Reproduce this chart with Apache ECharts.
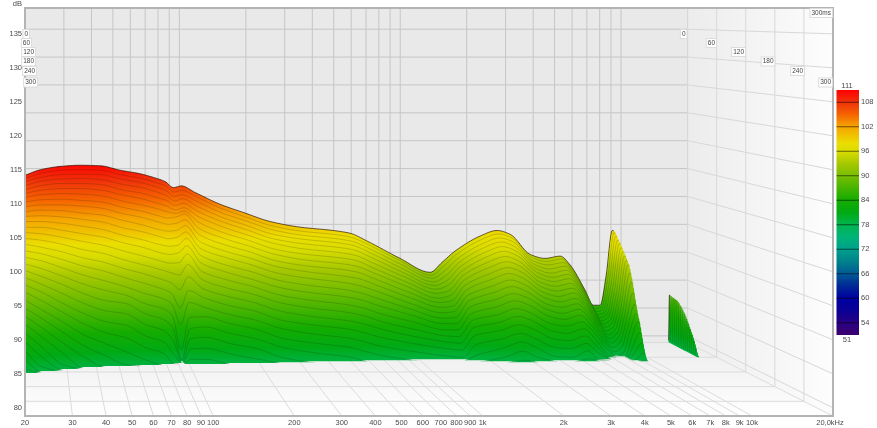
<!DOCTYPE html>
<html><head><meta charset="utf-8">
<style>html,body{margin:0;padding:0;background:#fff}#c{width:877px;height:428px}</style>
<script src="https://cdn.jsdelivr.net/npm/echarts@6/dist/echarts.min.js"></script>
</head><body><div id="c"></div>
<script>
// ---- axis ticks
const freqTicks = [20,30,40,50,60,70,80,90,100,200,300,400,500,600,700,800,900,1000,2000,3000,4000,5000,6000,7000,8000,9000,10000,20000];
const freqTickLabels = ['20','30','40','50','60','70','80','90','100','200','300','400','500','600','700','800','900','1k','2k','3k','4k','5k','6k','7k','8k','9k','10k','20,0kHz'];
const dbTicks = [80,85,90,95,100,105,110,115,120,125,130,135];
const timeTicks = [0,60,120,180,240,300];
const scaleTicks = [54,60,66,72,78,84,90,96,102,108];
const colorLevels = [111,108,105,102,100,98,96,95,93,90,87,84,81,78,75,72,69,66,63,60,57,54,51];
const colorValues = ['#ff0000','#f0320a','#f56400','#f5a500','#f0c000','#ebde00','#dadc00','#c8d600','#a6c800','#78be00','#46b400','#14ac00','#00aa14','#00b450','#00b478','#00a08c','#00828c','#005a96','#002896','#0000a0','#0a0096','#280082','#3c006e'];
// ---- slice times (ms): one entry per slice
const timesMs = [0,4,8,12,16,20,24,28,32,36,40,44,48,52,56,60,64,68,72,76,80,84,88,92,96,100,104,108,112,116,120,124];
// ---- decay of the level (dB) at each frequency, one value per slice until it reaches the floor
const frequenciesHz = [20,23.5,29,35.5,44,54,66,78,86,94,102,118,153,196,258,352,497,593,708,998,1365,1548,1770,2300,2745,3150,3876,4530,5300,5880,6870,7470,8040,8550,9120,9300,9500,16400,16550,16700,16850,20000];
const f20 = [108.8,108.3,107.8,107.2,106.6,106.0,105.4,104.7,104.0,103.2,102.5,101.7,100.8,100.0,99.1,98.2,97.2,96.2,95.2,94.2,93.1,92.0,90.9,89.7,88.5,87.3,86.1,84.8,83.5,82.1,80.8,79.4];
const f23 = [109.8,109.2,108.6,108.0,107.3,106.6,105.9,105.1,104.3,103.5,102.6,101.7,100.8,99.8,98.8,97.7,96.7,95.6,94.4,93.2,92.0,90.8,89.5,88.1,86.8,85.4,84.0,82.5,81.0,79.5];
const f29 = [110.4,109.8,109.1,108.4,107.7,106.9,106.1,105.2,104.3,103.4,102.4,101.4,100.3,99.2,98.1,96.9,95.7,94.4,93.1,91.8,90.4,88.9,87.5,86.0,84.4,82.8,81.2,79.5];
const f35 = [110.6,109.9,109.2,108.5,107.7,106.9,106.0,105.0,104.1,103.0,102.0,100.9,99.7,98.5,97.2,95.9,94.6,93.2,91.8,90.3,88.8,87.2,85.6,83.9,82.2,80.5];
const f44 = [110.5,109.8,109.1,108.3,107.5,106.6,105.7,104.7,103.7,102.6,101.5,100.3,99.1,97.8,96.5,95.1,93.7,92.2,90.7,89.1,87.5,85.8,84.1,82.4,80.5];
const f54 = [109.7,109.0,108.3,107.5,106.6,105.8,104.8,103.8,102.8,101.7,100.5,99.3,98.1,96.8,95.4,94.0,92.6,91.2,89.9,88.6,87.0,85.2,83.2,81.0,79.0];
const f66 = [109.1,108.4,107.7,106.9,106.0,105.1,104.1,103.1,102.1,100.9,99.8,98.5,97.3,95.9,94.5,93.1,91.6,90.0,88.4,86.8,85.1,83.3,81.5,79.6];
const f78 = [108.3,107.6,106.9,106.1,105.2,104.3,103.4,102.3,101.3,100.1,99.0,97.7,96.4,95.1,93.7,92.2,90.7,89.2,87.6,85.9,84.2,82.4,80.6];
const f86 = [107.7,107.0,106.3,105.5,104.7,103.8,102.9,101.9,100.9,99.8,98.6,97.4,96.1,94.7,93.2,91.6,89.9,88.2,86.4,84.5,82.5,80.4,78.9];
const f94 = [106.6,105.9,105.2,104.5,103.8,103.1,102.6,102.1,101.1,100.0,98.9,97.6,96.4,94.8,92.8,90.4,87.4,84.7,80.6,79.0];
const f102 = [106.9,106.2,105.5,104.9,104.2,103.5,103.0,102.6,101.7,100.8,99.8,98.8,97.6,96.3,94.6,92.6,90.4,88.5,86.1,84.3,82.8,81.2,79.6];
const f118 = [105.7,105.1,104.4,103.6,102.8,102.0,101.1,100.1,99.1,98.0,96.9,95.8,94.6,93.3,92.0,90.6,89.2,87.7,86.2,84.6,83.0,81.3,79.6];
const f153 = [103.6,103.0,102.3,101.6,100.9,100.1,99.2,98.3,97.3,96.3,95.3,94.1,93.0,91.8,90.5,89.2,87.8,86.4,85.0,83.5,81.9,80.3];
const f196 = [102.1,101.5,100.9,100.2,99.5,98.7,97.9,97.0,96.1,95.1,94.1,93.0,91.8,90.7,89.5,88.2,86.9,85.5,84.1,82.6,81.1,79.5];
const f258 = [100.5,99.9,99.3,98.6,97.9,97.2,96.3,95.5,94.5,93.6,92.6,91.5,90.4,89.2,88.0,86.7,85.3,84.0,82.5,81.1,79.5];
const f352 = [99.5,98.9,98.3,97.7,97.0,96.2,95.4,94.5,93.6,92.7,91.7,90.6,89.5,88.3,87.1,85.8,84.5,83.1,81.7,80.2];
const f497 = [98.9,98.3,97.7,97.1,96.4,95.6,94.8,93.9,93.0,92.0,91.0,89.9,88.8,87.6,86.4,85.1,83.8,82.4,81.0,79.5];
const f593 = [98.4,97.8,97.2,96.6,95.9,95.1,94.3,93.4,92.5,91.5,90.4,89.3,88.2,87.0,85.8,84.5,83.1,81.7,80.2];
const f708 = [97.0,96.5,95.9,95.3,94.6,93.8,93.0,92.2,91.3,90.4,89.4,88.3,87.2,86.0,84.8,83.6,82.3,80.9,79.5];
const f998 = [93.9,93.5,93.0,92.4,91.8,91.2,90.5,89.8,89.0,88.2,87.3,86.4,85.5,84.5,83.4,82.3,81.2,80.0];
const f1365 = [91.4,91.0,90.6,90.1,89.6,89.1,88.5,87.8,87.2,86.5,85.7,84.9,84.1,83.2,82.3,81.4,80.4,79.3];
const f1548 = [93.2,92.6,91.9,91.2,90.5,89.8,89.0,88.3,87.5,86.7,85.9,85.0,84.1,83.2,82.2,81.2,80.2,79.1];
const f1770 = [95.2,94.7,94.1,93.5,92.9,92.2,91.6,90.9,90.2,89.5,88.7,87.9,87.0,86.0,85.0,83.9,82.7,81.3,79.7];
const f2300 = [97.9,97.4,96.8,96.2,95.5,94.8,94.0,93.2,92.3,91.4,90.4,89.4,88.3,87.2,86.0,84.8,83.6,82.3,80.9,79.5];
const f2745 = [98.9,98.4,97.8,97.2,96.5,95.8,95.0,94.2,93.3,92.4,91.4,90.4,89.3,88.2,87.0,85.8,84.5,83.2,81.9,80.5,79.1];
const f3150 = [98.2,97.7,97.1,96.4,95.7,95.0,94.2,93.4,92.5,91.6,90.6,89.6,88.6,87.5,86.3,85.1,83.8,82.4,81.0,79.5];
const f3876 = [94.6,94.2,93.7,93.2,92.6,92.0,91.3,90.6,89.9,89.1,88.3,87.4,86.5,85.5,84.4,83.3,82.1,80.8,79.4];
const f4530 = [93.9,93.5,93.0,92.4,91.8,91.2,90.6,89.9,89.2,88.4,87.6,86.8,85.9,85.0,84.0,82.9,81.8,80.6,79.3];
const f5300 = [94.3,93.9,93.4,92.9,92.3,91.7,91.1,90.4,89.7,89.0,88.2,87.4,86.6,85.7,84.7,83.7,82.6,81.5,80.4,79.2];
const f5880 = [92.7,92.2,91.7,91.2,90.6,90.0,89.4,88.7,88.0,87.3,86.6,85.8,85.0,84.1,83.2,82.2,81.1,80.0,78.9];
const f6870 = [88.2,87.7,87.2,86.7,86.2,85.7,85.2,84.6,84.0,83.4,82.8,82.1,81.4,80.7,79.9,79.1];
const f7470 = [85.5,85.1,84.7,84.3,83.9,83.5,83.1,82.7,82.2,81.7,81.2,80.6,80.0,79.4,78.9];
const f8040 = [85.5,85.3,85.1,84.8,84.5,84.2,83.8,83.4,83.0,82.6,82.1,81.6,81.0,80.3,79.5];
const f8550 = [90.7,90.4,90.1,89.7,89.3,88.9,88.4,87.9,87.4,86.8,86.2,85.5,84.8,84.0,83.1,82.1,81.0,80.0,79.0];
const f9120 = [98.9,98.6,98.1,97.5,97.0,96.4,95.8,95.2,94.5,93.9,92.6,91.1,89.4,87.6,86.1,84.9,83.2,81.5,80.0,78.9];
const f9300 = [98.8,98.5,98.0,97.4,96.9,96.3,95.7,95.1,94.4,93.8,92.5,91.0,89.3,87.5,86.0,84.8,83.1,81.4,79.9,78.9];
const f9500 = [];
const f16400 = [];
const f16550 = [87.3,87.2,87.1,87.0,86.9,86.6,86.2,85.7,85.2,84.5,83.8,83.0,82.2,81.3,80.2,79.0];
const f16700 = [87.2,87.1,87.0,86.9,86.8,86.5,86.1,85.6,85.1,84.4,83.7,82.9,82.1,81.2,80.1,79.0];
const f16850 = [];
const f20000 = [];
const levelsByFrequency = [f20,f23,f29,f35,f44,f54,f66,f78,f86,f94,f102,f118,f153,f196,f258,f352,f497,f593,f708,f998,f1365,f1548,f1770,f2300,f2745,f3150,f3876,f4530,f5300,f5880,f6870,f7470,f8040,f8550,f9120,f9300,f9500,f16400,f16550,f16700,f16850,f20000];
// ---- in-between slices that exist only in the two narrow treble peaks
const fineTimesMs = [2,6,10,14,18,22,26,30,34,38,42,46,50,54,58,62,66,70,74];
const fine8550 = [90.6,90.3,89.9,89.5,89.1,88.7,88.2,87.7,87.1,86.5,85.9,85.2,84.4,83.6,82.6,81.6,80.5,79.5];
const fine9120 = [98.8,98.4,97.8,97.3,96.7,96.1,95.5,94.9,94.2,93.3,91.9,90.3,88.5,86.8,85.5,84.1,82.4,80.8,79.4];
const fine9300 = [98.7,98.3,97.7,97.2,96.6,96.0,95.4,94.8,94.1,93.2,91.8,90.2,88.4,86.8,85.4,84.0,82.3,80.7,79.3];
const fine16550 = [87.3,87.2,87.1,87.0,86.8,86.4,86.0,85.5,84.9,84.2,83.4,82.6,81.8,80.8,79.6];
const fine16700 = [87.2,87.1,87.0,86.9,86.7,86.3,85.9,85.4,84.8,84.1,83.3,82.5,81.7,80.7,79.5];
const fineFrequencies = [8550,9120,9300,16550,16700];
const fineLevels = [fine8550,fine9120,fine9300,fine16550,fine16700];

// ---- projection of the oblique view onto the front plane of the axes
const F_MIN = 20, F_MAX = 20000, DB_FLOOR = 78.8, DB_TOP = 138.8, T_MAX = 300, BACK = 0.82;
function project(f, level, t) {
  const s = BACK + (1 - BACK) * t / T_MAX;
  return [F_MIN * Math.pow(f / F_MIN, s), DB_TOP - (DB_TOP - level) * s];
}
const FONT = '"Liberation Sans", Arial, sans-serif';
const logF = frequenciesHz.map(Math.log10);
const allTimes = timesMs.concat(fineTimesMs).sort((a, b) => a - b);

function gradientFor(y0, y1) {
  const span = colorLevels[0] - colorLevels[colorLevels.length - 1];
  return new echarts.graphic.LinearGradient(0, y0, 0, y1,
    colorLevels.map((l, i) => ({ offset: (colorLevels[0] - l) / span, color: colorValues[i] })), true);
}

function sliceLevels(t) {
  const k = timesMs.indexOf(t);
  if (k >= 0) return levelsByFrequency.map(c => (k < c.length ? c[k] : DB_FLOOR));
  const m = fineTimesMs.indexOf(t);
  return frequenciesHz.map(f => {
    const i = fineFrequencies.indexOf(f);
    return (i >= 0 && m < fineLevels[i].length) ? fineLevels[i][m] : DB_FLOOR;
  });
}
// monotone cubic through one slice, so the curve never overshoots the read values
function sliceCurve(t) {
  const ys = sliceLevels(t);
  const n = ys.length, del = [], d = new Array(n).fill(0);
  for (let i = 0; i < n - 1; i++) del[i] = (ys[i + 1] - ys[i]) / (logF[i + 1] - logF[i]);
  d[0] = del[0]; d[n - 1] = del[n - 2];
  for (let i = 1; i < n - 1; i++) d[i] = del[i - 1] * del[i] <= 0 ? 0 : 2 * del[i - 1] * del[i] / (del[i - 1] + del[i]);
  const out = [];
  for (let i = 0; i < n - 1; i++) {
    const h = logF[i + 1] - logF[i];
    const steps = (ys[i] <= DB_FLOOR && ys[i + 1] <= DB_FLOOR) ? 1 : 8;
    for (let j = 0; j < steps; j++) {
      const u = j / steps, u2 = u * u, u3 = u2 * u;
      const v = (2 * u3 - 3 * u2 + 1) * ys[i] + (u3 - 2 * u2 + u) * h * d[i] + (-2 * u3 + 3 * u2) * ys[i + 1] + (u3 - u2) * h * d[i + 1];
      out.push([Math.pow(10, logF[i] + u * h), Math.max(v, DB_FLOOR)]);
    }
  }
  out.push([frequenciesHz[n - 1], ys[n - 1]]);
  return out;
}

function renderSlice(params, api) {
  const t = api.value(2), isCoarse = timesMs.indexOf(t) >= 0;
  const curve = sliceCurve(t);
  const pts = curve.map(p => api.coord(project(p[0], p[1], t)));
  const poly = pts.concat([api.coord(project(F_MAX, DB_FLOOR, t)), api.coord(project(F_MIN, DB_FLOOR, t))]);
  const y0 = api.coord(project(F_MIN, 111, t))[1], y1 = api.coord(project(F_MIN, 51, t))[1];
  const children = [{ type: 'polygon', shape: { points: poly }, style: { fill: gradientFor(y0, y1), stroke: null } }];
  if (isCoarse) {
    let run = [];
    const flush = () => {
      if (run.length > 1) children.push({ type: 'polyline', shape: { points: run },
        style: { fill: null, stroke: t === 0 ? 'rgba(30,10,0,.65)' : 'rgba(20,30,0,.26)', lineWidth: t === 0 ? 1 : 0.7 } });
      run = [];
    };
    curve.forEach((p, i) => {
      const onFall = (p[0] > 9300 && p[0] < 16000) || p[0] > 16700;
      if (p[1] > DB_FLOOR + 0.02 && !onFall) run.push(pts[i]); else flush();
    });
    flush();
  }
  return { type: 'group', children };
}

function seg(api, a, b, color, w) {
  return { type: 'line', shape: { x1: a[0], y1: a[1], x2: b[0], y2: b[1] }, style: { stroke: color, lineWidth: w || 1, fill: null } };
}
function renderWalls(params, api) {
  const P = (f, l, t) => api.coord(project(f, l, t));
  const c = [];
  const a = P(F_MIN, DB_TOP, 0), b = P(F_MAX, DB_TOP, 0), cc = P(F_MAX, DB_FLOOR, 0), d = P(F_MIN, DB_FLOOR, 0);
  const e = P(F_MAX, DB_TOP, T_MAX), g = P(F_MAX, DB_FLOOR, T_MAX), h = P(F_MIN, DB_FLOOR, T_MAX);
  c.push({ type: 'polygon', shape: { points: [a, b, cc, d] }, style: { fill: '#e9e9e9' } });
  c.push({ type: 'polygon', shape: { points: [d, cc, g, h] }, style: {
    fill: new echarts.graphic.LinearGradient(0, d[1], 0, g[1], [{ offset: 0, color: '#ececec' }, { offset: 1, color: '#ffffff' }], true) } });
  c.push({ type: 'polygon', shape: { points: [b, e, g, cc] }, style: {
    fill: new echarts.graphic.LinearGradient(b[0], 0, e[0], 0, [{ offset: 0, color: '#ececec' }, { offset: 1, color: '#fdfdfd' }], true) } });
  const back = '#c6c6c6', side = '#d8d8d8', floor = '#dcdcdc';
  freqTicks.forEach(f => {
    c.push(seg(api, P(f, DB_TOP, 0), P(f, DB_FLOOR, 0), back));
    c.push(seg(api, P(f, DB_FLOOR, 0), P(f, DB_FLOOR, T_MAX), floor));
  });
  dbTicks.forEach(v => {
    c.push(seg(api, P(F_MIN, v, 0), P(F_MAX, v, 0), back));
    c.push(seg(api, P(F_MAX, v, 0), P(F_MAX, v, T_MAX), side));
  });
  timeTicks.forEach(t => {
    c.push(seg(api, P(F_MIN, DB_FLOOR, t), P(F_MAX, DB_FLOOR, t), floor));
    c.push(seg(api, P(F_MAX, DB_TOP, t), P(F_MAX, DB_FLOOR, t), side));
  });
  return { type: 'group', children: c };
}
function renderFrame(params, api) {
  const tl = api.coord([F_MIN, DB_TOP]), br = api.coord([F_MAX, DB_FLOOR]);
  const c = [{ type: 'rect', shape: { x: tl[0], y: tl[1], width: br[0] - tl[0], height: br[1] - tl[1] },
    style: { fill: null, stroke: '#b4b4b4', lineWidth: 2 } }];
  freqTicks.forEach((f, i) => {
    const p = api.coord([f, DB_FLOOR]);
    c.push({ type: 'text', x: i === freqTicks.length - 1 ? p[0] - 3 : p[0], y: p[1] + 7,
      style: { text: freqTickLabels[i], fill: '#4a4a4a', font: '7.5px ' + FONT, align: 'center', verticalAlign: 'middle' } });
  });
  return { type: 'group', children: c };
}
function renderScale(params, api) {
  const a = api.coord([0, 111]), b = api.coord([1, 51]);
  const c = [{ type: 'rect', shape: { x: a[0], y: a[1], width: b[0] - a[0], height: b[1] - a[1] },
    style: { fill: gradientFor(a[1], b[1]), stroke: null } }];
  scaleTicks.forEach(v => {
    const y = api.coord([0, v])[1];
    c.push(seg(api, [a[0], y], [b[0], y], 'rgba(0,0,0,.55)', 1));
  });
  return { type: 'group', children: c };
}

const chart = echarts.init(document.getElementById('c'));
function tag(text, right, y) {
  return { type: 'text', z: 50, silent: true, x: right, y: y, style: { text, font: '6.5px ' + FONT, fill: '#444', align: 'right', verticalAlign: 'middle',
    backgroundColor: '#fff', borderColor: '#dcdcdc', borderWidth: 1, padding: [1, 1, 0, 1] } };
}
const tagY = [34, 43, 52, 61.5, 71, 82.5];
const tagLeftX = [29, 31, 35, 35, 36, 37];
const tagRightX = [686.5, 716, 745, 774.5, 804, 832];
const graphics = [];
timeTicks.forEach((t, i) => {
  graphics.push(tag(String(t), tagLeftX[i], tagY[i]));
  graphics.push(tag(String(t), tagRightX[i], tagY[i]));
});
graphics.push(tag('300ms', 832, 13));
graphics.push({ type: 'text', z: 50, x: 847, y: 86, style: { text: '111', font: '7.5px ' + FONT, fill: '#4a4a4a', align: 'center', verticalAlign: 'middle' } });
graphics.push({ type: 'text', z: 50, x: 847, y: 340, style: { text: '51', font: '7.5px ' + FONT, fill: '#4a4a4a', align: 'center', verticalAlign: 'middle' } });

chart.setOption({
  animation: false,
  backgroundColor: '#ffffff',
  graphic: graphics,
  grid: [
    { left: 25, right: 44, top: 8, bottom: 12 },
    { left: 836.5, top: 90, width: 22.5, height: 245 }
  ],
  xAxis: [
    { type: 'log', logBase: 10, min: F_MIN, max: F_MAX, gridIndex: 0, axisLabel: { show: false }, axisTick: { show: false }, axisLine: { show: false }, splitLine: { show: false }, minorSplitLine: { show: false } },
    { type: 'value', min: 0, max: 1, gridIndex: 1, show: false }
  ],
  yAxis: [
    { type: 'value', min: DB_FLOOR, max: DB_TOP, gridIndex: 0, name: 'dB', nameGap: 0,
      nameTextStyle: { color: '#4a4a4a', fontSize: 7.5, fontFamily: FONT, align: 'right', verticalAlign: 'bottom', padding: [0, 3, 0, 0] },
      axisLine: { show: false }, axisTick: { show: false }, splitLine: { show: false },
      axisLabel: { customValues: dbTicks, margin: 3, color: '#4a4a4a', fontSize: 7.5, fontFamily: FONT, hideOverlap: false } },
    { type: 'value', min: 51, max: 111, gridIndex: 1, position: 'right',
      axisLine: { show: false }, axisTick: { show: false }, splitLine: { show: false },
      axisLabel: { customValues: scaleTicks, margin: 2, color: '#4a4a4a', fontSize: 7.5, fontFamily: FONT, hideOverlap: false } }
  ],
  series: [
    { type: 'custom', z: 1, silent: true, xAxisIndex: 0, yAxisIndex: 0, renderItem: renderWalls, data: [[F_MIN, DB_FLOOR]], encode: { x: 0, y: 1 } },
    { type: 'custom', z: 2, silent: true, xAxisIndex: 0, yAxisIndex: 0, renderItem: renderSlice, progressive: 0,
      data: allTimes.map(t => [F_MIN, DB_FLOOR, t]), encode: { x: 0, y: 1 } },
    { type: 'custom', z: 3, silent: true, xAxisIndex: 0, yAxisIndex: 0, renderItem: renderFrame, data: [[F_MIN, DB_FLOOR]], encode: { x: 0, y: 1 } },
    { type: 'custom', z: 2, silent: true, xAxisIndex: 1, yAxisIndex: 1, renderItem: renderScale, data: [[0, 51]], encode: { x: 0, y: 1 } }
  ]
});
</script>
</body></html>
